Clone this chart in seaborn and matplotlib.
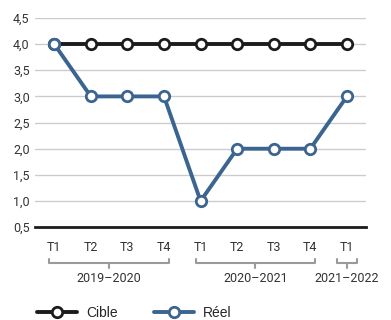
import pandas as pd
import numpy as np
import matplotlib
matplotlib.use("Agg")
import matplotlib.pyplot as plt
import matplotlib.transforms as mtransforms
from matplotlib.lines import Line2D
import seaborn as sns

quarters = ["T1", "T2", "T3", "T4", "T1", "T2", "T3", "T4", "T1"]
cible = [4.0, 4.0, 4.0, 4.0, 4.0, 4.0, 4.0, 4.0, 4.0]
reel = [4.0, 3.0, 3.0, 3.0, 1.0, 2.0, 2.0, 2.0, 3.0]
years = ["2019\u20132020", "2020\u20132021", "2021\u20132022"]
year_spans = [(0, 3), (4, 7), (8, 8)]
y_ticks = [0.5, 1.0, 1.5, 2.0, 2.5, 3.0, 3.5, 4.0, 4.5]

sns.set_style("white")
plt.rcParams["font.family"] = ["Roboto", "DejaVu Sans"]

df = pd.DataFrame({"pos": np.arange(len(quarters)), "Cible": cible, "Réel": reel})

black = "#1c1c1c"
blue = "#3b6590"

fig = plt.figure(figsize=(3.91, 3.2), dpi=100)
ax = fig.add_axes([0.09, 0.29, 0.846, 0.654])

for col, color in [("Cible", black), ("Réel", blue)]:
    sns.lineplot(data=df, x="pos", y=col, ax=ax, color=color, linewidth=2.8,
                 marker="o", markersize=7.5, markerfacecolor="white",
                 markeredgecolor=color, markeredgewidth=2, zorder=3)

ax.set_xlim(-0.52, 8.52)
ax.set_ylim(0.5, 4.5)
ax.set_yticks(y_ticks)
ax.set_yticklabels([f"{v:.1f}".replace(".", ",") for v in y_ticks])
ax.set_xticks(df["pos"])
ax.set_xticklabels(quarters)
ax.set_xlabel("")
ax.set_ylabel("")
ax.grid(axis="y", color="#cccccc", linewidth=1)
for s in ["top", "right", "left"]:
    ax.spines[s].set_visible(False)
ax.spines["bottom"].set_color(black)
ax.spines["bottom"].set_linewidth(2)
ax.spines["bottom"].set_zorder(4)
ax.tick_params(axis="y", length=0, labelsize=9, labelcolor="#333333", pad=4)
ax.tick_params(axis="x", direction="out", length=4, width=1, color=black,
               labelsize=9, labelcolor="#333333", pad=6)

# year brackets under the quarter labels
trans = mtransforms.blended_transform_factory(ax.transData, ax.transAxes)
gray = "#9a9a9a"
for name, (a, b) in zip(years, year_spans):
    pad = 0.13 if b > a else 0.27
    x0, x1 = a - pad, b + pad
    yb = -0.17
    ax.plot([x0, x0, x1, x1], [yb + 0.02, yb, yb, yb + 0.02], color=gray,
            lw=1.5, transform=trans, clip_on=False)
    xm = (x0 + x1) / 2
    ax.plot([xm, xm], [yb, yb - 0.025], color=gray, lw=1.5,
            transform=trans, clip_on=False)
    ax.text(xm, yb - 0.045, name, transform=trans, ha="center", va="top",
            fontsize=9, color="#333333")

handles = [Line2D([], [], color=c, lw=2.8, marker="o", markersize=7.5,
                  markerfacecolor="white", markeredgecolor=c, markeredgewidth=2)
           for c in (black, blue)]
fig.legend(handles, ["Cible", "Réel"], loc="center left",
           bbox_to_anchor=(0.062, 0.022), ncol=2, frameon=False,
           handlelength=2.9, columnspacing=2.6, handletextpad=0.65,
           prop={"family": ["Liberation Sans", "DejaVu Sans"], "size": 10})

fig.savefig("out.png", dpi=100)
